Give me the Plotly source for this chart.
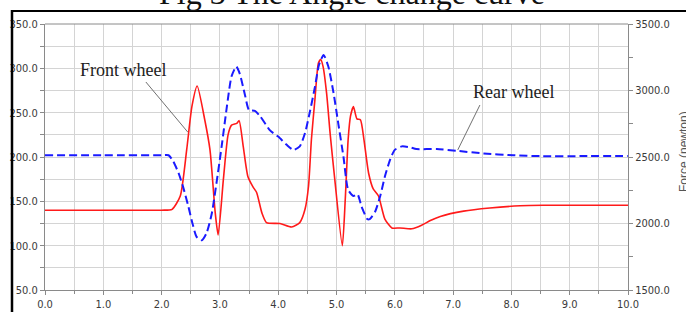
import plotly.graph_objects as go

# ---- data ----
front_t = [0, 1.0, 2.0, 2.18, 2.32, 2.43, 2.52, 2.61, 2.74, 2.83, 2.92, 2.97, 3.06, 3.14, 3.2, 3.29, 3.33,
           3.4, 3.48, 3.57, 3.63, 3.72, 3.8, 4.03, 4.23, 4.37, 4.46, 4.52, 4.57, 4.63, 4.69, 4.73,
           4.77, 4.83, 4.89, 4.97, 5.1, 5.15, 5.2, 5.24, 5.29, 5.35, 5.41, 5.47, 5.55, 5.63, 5.72,
           5.83, 5.95, 6.09, 6.29, 6.46, 6.6, 6.78, 7.18, 7.63, 8.15, 8.55, 9.3, 10]
front_v = [140, 140, 140, 141, 156, 208, 257, 280, 242, 208, 137, 112, 175, 225, 236, 238, 241,
           212, 178, 166, 160, 137, 126, 125, 121, 126, 141, 167, 220, 265, 306, 310,
           302, 272, 227, 175, 100, 152, 220, 246, 257, 243, 242, 220, 182, 164, 156,
           130, 120, 120, 119, 123, 128, 133, 139, 142.5, 145, 145.5, 145.5, 145.5]

rear_t = [0, 1.0, 2.0, 2.12, 2.2, 2.29, 2.37, 2.46, 2.53, 2.6, 2.69, 2.77, 2.86, 2.94, 3.03, 3.12, 3.2,
          3.28, 3.34, 3.43, 3.5, 3.6, 3.69, 3.86, 4.0, 4.14, 4.26, 4.37, 4.46, 4.55, 4.63, 4.7,
          4.78, 4.86, 4.95, 5.03, 5.12, 5.2, 5.29, 5.36, 5.43, 5.53, 5.57, 5.66, 5.75, 5.83, 5.92,
          6.0, 6.12, 6.26, 6.37, 6.72, 7.06, 7.52, 8.03, 8.49, 9.3, 10]
rear_v = [202, 202, 202, 202, 195, 182, 166, 144, 125, 110, 106, 114, 136, 170, 212, 257, 291,
          302, 294, 270, 253, 252, 246, 230, 223, 214, 208, 212, 227, 253, 279, 304,
          315, 302, 272, 238, 200, 163, 156, 158, 144, 130, 130, 138, 156, 178, 197,
          208, 212, 211, 209, 209, 207, 204, 202, 201, 201, 201]

title_text = "Fig 3 The Angle change curve"
front_label = "Front wheel"
rear_label = "Rear wheel"
right_axis_title = "Force (newton)"

# ---- geometry (page pixels) ----
W, H = 686, 312
L, R, T, B = 45, 628, 24, 290          # plot area in page pixels
def px(x):
    return (x - L) / (R - L)
def py(y):
    return (B - y) / (B - T)

tick_font = dict(family="Liberation Sans Narrow, DejaVu Sans Condensed, Liberation Sans, sans-serif",
                 size=11, color="#3a3a3a")
grid_c = "#d4d4d4"
axis_c = "#8a8a8a"

fig = go.Figure()
fig.add_trace(go.Scatter(x=front_t, y=front_v, mode="lines",
                         line=dict(color="#ff1a1a", width=1.6, shape="spline", smoothing=0.6),
                         showlegend=False, hoverinfo="skip"))
fig.add_trace(go.Scatter(x=rear_t, y=rear_v, mode="lines",
                         line=dict(color="#1a1aff", width=2, dash="8px,4px", shape="spline", smoothing=0.6),
                         showlegend=False, hoverinfo="skip"))
fig.add_trace(go.Scatter(x=[0], y=[2500], yaxis="y2", mode="lines",
                         line=dict(width=0), showlegend=False, hoverinfo="skip"))

fig.update_layout(
    width=W, height=H,
    margin=dict(l=L, r=W - R, t=T, b=H - B, autoexpand=False),
    paper_bgcolor="white", plot_bgcolor="white",
    xaxis=dict(range=[0, 10], dtick=1, tickformat=".1f", showgrid=True, gridcolor=grid_c,
               gridwidth=1, ticks="outside", ticklen=4, tickcolor=axis_c,
               showline=True, linecolor=axis_c, linewidth=1, zeroline=False,
               tickfont=tick_font,
               minor=dict(dtick=0.5, ticks="outside", ticklen=3, tickcolor=axis_c,
                          showgrid=True, gridcolor=grid_c)),
    yaxis=dict(range=[50, 350], dtick=50, tickformat=".1f", showgrid=True, gridcolor=grid_c,
               ticks="outside", ticklen=4, tickcolor=axis_c,
               showline=True, linecolor=axis_c, linewidth=1, zeroline=False,
               tickfont=tick_font,
               minor=dict(dtick=25, ticks="outside", ticklen=4, tickcolor=axis_c,
                          showgrid=True, gridcolor=grid_c)),
    yaxis2=dict(range=[1500, 3500], dtick=500, tickformat=".1f", overlaying="y", side="right",
                showgrid=False, ticks="outside", ticklen=4, tickcolor=axis_c,
                showline=True, linecolor=axis_c, linewidth=1, zeroline=False,
                tickfont=tick_font,
                minor=dict(dtick=250, ticks="outside", ticklen=4, tickcolor=axis_c, showgrid=False)),
)

shapes = [
    dict(type="line", xref="paper", yref="paper", x0=0, x1=1, y0=1, y1=1,
         line=dict(color=axis_c, width=1)),
    dict(type="line", xref="paper", yref="paper", x0=px(12), x1=px(700), y0=py(11), y1=py(11),
         line=dict(color="black", width=2)),
    dict(type="line", xref="paper", yref="paper", x0=px(12), x1=px(12), y0=py(10), y1=py(330),
         line=dict(color="black", width=2.5)),
    dict(type="line", xref="x", yref="y", x0=1.73, y0=284.6, x1=2.45, y1=228,
         line=dict(color="#707070", width=1)),
    dict(type="line", xref="x", yref="y", x0=7.46, y0=258.6, x1=7.08, y1=208,
         line=dict(color="#707070", width=1)),
]
fig.update_layout(shapes=shapes)

serif = "Liberation Serif, Times New Roman, serif"
annotations = [
    dict(text=title_text, xref="paper", yref="paper", x=px(352), y=py(13),
         xanchor="center", yanchor="bottom", showarrow=False,
         font=dict(family=serif, size=32, color="#111")),
    dict(text=front_label, xref="paper", yref="paper", x=px(123), y=py(70),
         xanchor="center", yanchor="middle", showarrow=False,
         font=dict(family=serif, size=18, color="#222")),
    dict(text=rear_label, xref="paper", yref="paper", x=px(513), y=py(92),
         xanchor="center", yanchor="middle", showarrow=False,
         font=dict(family=serif, size=18, color="#222")),
    dict(text=right_axis_title, xref="paper", yref="paper", x=px(684), y=py(151),
         xanchor="center", yanchor="middle", textangle=-90, showarrow=False,
         font=dict(family="Liberation Sans, Arial, sans-serif", size=12, color="#555")),
]
fig.update_layout(annotations=annotations)

fig.write_html("out.html", config={"displayModeBar": False},
               post_script="document.body.style.margin='0px';")
